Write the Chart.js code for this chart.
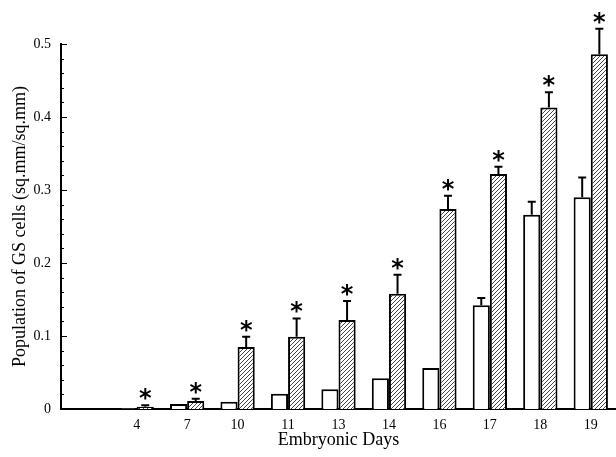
<!DOCTYPE html>
<html>
<head>
<meta charset="utf-8">
<script src="https://cdn.jsdelivr.net/npm/chart.js@4"></script>
<style>
  html, body { margin: 0; padding: 0; background: #fff; }
  #wrap { width: 616px; height: 457px; }
</style>
</head>
<body>
<div id="wrap"><canvas id="myChart" width="616" height="457"></canvas></div>
<script>
// first slot is an empty category, as in the figure
var days = ["", "4", "7", "10", "11", "13", "14", "16", "17", "18", "19"];
var controlValues = [null, 0.001, 0.007, 0.010, 0.021, 0.027, 0.042, 0.056, 0.142, 0.266, 0.290];
var controlErrors = [null, null, null, null, null, null, null, null, 0.010, 0.018, 0.027];
var treatedValues = [null, 0.003, 0.011, 0.085, 0.099, 0.122, 0.158, 0.274, 0.322, 0.413, 0.486];
var treatedErrors = [null, 0.002, 0.003, 0.014, 0.025, 0.026, 0.026, 0.018, 0.010, 0.021, 0.035];
var significant = [false, true, true, true, true, true, true, true, true, true, true];
var yTicks = [0, 0.1, 0.2, 0.3, 0.4, 0.5];

var serif = '"Liberation Serif", "Times New Roman", serif';

function makeHatch() {
    var c = document.createElement("canvas");
    c.width = 4;
    c.height = 4;
    var g = c.getContext("2d");
    g.fillStyle = "#fff";
    g.fillRect(0, 0, 4, 4);
    g.strokeStyle = "#444";
    g.lineWidth = 1;
    g.beginPath();
    g.moveTo(0, 4); g.lineTo(4, 0);
    g.moveTo(-1, 1); g.lineTo(1, -1);
    g.moveTo(3, 5); g.lineTo(5, 3);
    g.stroke();
    return g.createPattern(c, "repeat");
}

// error bars with caps, plus the asterisks over significant bars
var errorBars = {
    id: "errorBars",
    afterDatasetsDraw(chart) {
        var ctx = chart.ctx;
        var yScale = chart.scales.y;
        ctx.save();
        ctx.strokeStyle = "#000";
        ctx.lineWidth = 2;
        chart.data.datasets.forEach((ds, i) => {
            var meta = chart.getDatasetMeta(i);
            meta.data.forEach((bar, j) => {
                var v = ds.data[j];
                if (v === null) return;
                var top = bar.y;
                var e = ds.errors[j];
                if (e) {
                    top = yScale.getPixelForValue(v + e);
                    ctx.beginPath();
                    ctx.moveTo(bar.x, bar.y);
                    ctx.lineTo(bar.x, top);
                    ctx.moveTo(bar.x - 4, top);
                    ctx.lineTo(bar.x + 4, top);
                    ctx.stroke();
                }
                if (ds.stars && significant[j]) {
                    ctx.fillStyle = "#000";
                    ctx.font = "bold 24px 'DejaVu Sans'";
                    ctx.textAlign = "center";
                    ctx.textBaseline = "alphabetic";
                    var m = ctx.measureText("*");
                    // put the bottom of the glyph 5px above the cap
                    ctx.fillText("*", bar.x, top - 5 - m.actualBoundingBoxDescent);
                }
            });
        });
        ctx.restore();
    }
};

// inward tick marks on the y axis, major every 0.1 and minor every 0.02
var yTickMarks = {
    id: "yTickMarks",
    afterDraw(chart) {
        var ctx = chart.ctx;
        var yScale = chart.scales.y;
        var x0 = chart.chartArea.left;
        ctx.save();
        ctx.strokeStyle = "#000";
        ctx.lineWidth = 1;
        for (let k = 0; k <= 25; k++) {
            var y = Math.round(yScale.getPixelForValue(k * 0.02)) + 0.5;
            var len = (k % 5 === 0) ? 6 : 3;
            ctx.beginPath();
            ctx.moveTo(x0, y);
            ctx.lineTo(x0 + len, y);
            ctx.stroke();
        }
        ctx.restore();
    }
};

document.addEventListener('DOMContentLoaded', function() {
    var ctx = document.getElementById("myChart");
    new Chart(ctx, {
        type: 'bar',
        data: {
            labels: days,
            datasets: [
                {
                    data: controlValues,
                    errors: controlErrors,
                    stars: false,
                    backgroundColor: "#fff",
                    borderColor: "#000",
                    borderWidth: 2,
                    categoryPercentage: 0.68,
                    barPercentage: 1.0,
                    clip: false
                },
                {
                    data: treatedValues,
                    errors: treatedErrors,
                    stars: true,
                    backgroundColor: makeHatch(),
                    borderColor: "#000",
                    borderWidth: 2,
                    categoryPercentage: 0.68,
                    barPercentage: 1.0,
                    clip: false
                }
            ]
        },
        options: {
            responsive: false,
            animation: false,
            layout: { padding: { top: 44, left: 0, right: 0, bottom: 0 } },
            plugins: {
                legend: { display: false },
                tooltip: { enabled: false }
            },
            scales: {
                x: {
                    grid: { display: false, drawTicks: false },
                    border: { display: true, color: "#000", width: 2 },
                    ticks: { color: "#000", font: { family: serif, size: 14 }, padding: 8, maxRotation: 0 },
                    title: {
                        display: true,
                        text: "Embryonic Days",
                        color: "#000",
                        font: { family: serif, size: 18 },
                        padding: { top: 0, bottom: 6 }
                    },
                    afterFit: function(scale) { scale.height = 48; }
                },
                y: {
                    min: 0,
                    max: 0.5,
                    afterBuildTicks: function(scale) {
                        scale.ticks = yTicks.map(v => ({ value: v }));
                    },
                    grid: { display: false, drawTicks: false },
                    border: { display: true, color: "#000", width: 2 },
                    ticks: {
                        color: "#000",
                        font: { family: serif, size: 14 },
                        padding: 10,
                        callback: function(v) { return v === 0 ? "0" : v.toFixed(1); }
                    },
                    title: {
                        display: true,
                        text: "Population of GS cells (sq.mm/sq.mm)",
                        color: "#000",
                        font: { family: serif, size: 18 },
                        padding: { top: 9, bottom: 0 }
                    },
                    afterFit: function(scale) { scale.width = 61; }
                }
            }
        },
        plugins: [errorBars, yTickMarks]
    });
});
</script>
</body>
</html>
